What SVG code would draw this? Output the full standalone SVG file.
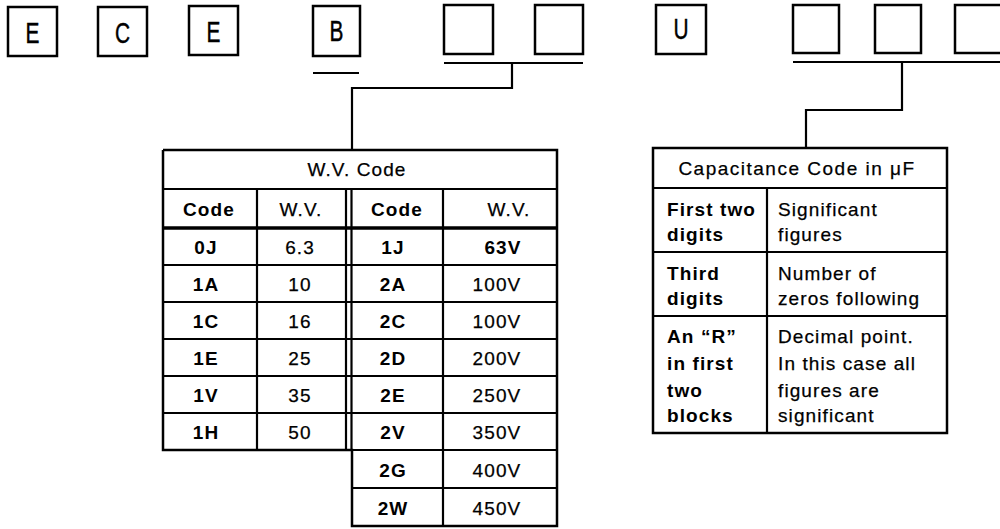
<svg xmlns="http://www.w3.org/2000/svg" width="1000" height="529" viewBox="0 0 1000 529">
<style>
.box{fill:none;stroke:#000;stroke-width:2.5}
.ln{fill:none;stroke:#000;stroke-width:2.2}
.thk{fill:none;stroke:#000;stroke-width:3.5}
.big{font-family:"Liberation Sans",Arial,sans-serif;font-size:29px;text-anchor:middle;fill:#000;stroke:#000;stroke-width:0.45px}
.t{font-family:"Liberation Sans",Arial,sans-serif;font-size:19px;letter-spacing:1.1px;fill:#000;stroke:#000;stroke-width:0.25px}
.c{text-anchor:middle}
.b{font-weight:bold;stroke-width:0}
</style>
<rect width="1000" height="529" fill="#fff"/>

<g id="code-boxes">
  <g id="box-E1"><rect class="box" x="8" y="7" width="49" height="49"/><text class="big" transform="translate(32.5,43) scale(0.72,1)">E</text></g>
  <g id="box-C"><rect class="box" x="98" y="7" width="49" height="49"/><text class="big" transform="translate(122.5,43) scale(0.72,1)">C</text></g>
  <g id="box-E2"><rect class="box" x="189" y="6" width="49" height="49"/><text class="big" transform="translate(213.5,42) scale(0.72,1)">E</text></g>
  <g id="box-B"><rect class="box" x="313" y="6" width="47" height="50"/><text class="big" transform="translate(336.5,41) scale(0.72,1)">B</text></g>
  <g id="box-V1"><rect class="box" x="444" y="5" width="49" height="49"/></g>
  <g id="box-V2"><rect class="box" x="535" y="5" width="48" height="49"/></g>
  <g id="box-U"><rect class="box" x="656" y="5" width="50" height="49"/><text class="big" transform="translate(681,39) scale(0.72,1)">U</text></g>
  <g id="box-C1"><rect class="box" x="793" y="5" width="46" height="48"/></g>
  <g id="box-C2"><rect class="box" x="875" y="5" width="46" height="48"/></g>
  <g id="box-C3"><rect class="box" x="955" y="5" width="50" height="48"/></g>
</g>

<g id="connectors">
  <line class="ln" x1="313" y1="73" x2="359" y2="73"/>
  <polyline class="ln" points="444,63 583,63"/>
  <polyline class="ln" points="512,63 512,88 352,88 352,150"/>
  <polyline class="ln" points="793,62 1000,62"/>
  <polyline class="ln" points="902,62 902,110 806,110 806,148"/>
</g>

<g id="wv-table">
  <polyline class="box" points="163,150 557,150 557,526 352,526 352,450 163,450 163,150"/>
  <line class="ln" x1="163" y1="189" x2="557" y2="189"/>
  <line class="thk" x1="163" y1="228" x2="557" y2="228"/>
  <line class="ln" x1="163" y1="265" x2="557" y2="265"/>
  <line class="ln" x1="163" y1="302" x2="557" y2="302"/>
  <line class="ln" x1="163" y1="339" x2="557" y2="339"/>
  <line class="ln" x1="163" y1="376" x2="557" y2="376"/>
  <line class="ln" x1="163" y1="413" x2="557" y2="413"/>
  <line class="ln" x1="352" y1="450" x2="557" y2="450"/>
  <line class="ln" x1="352" y1="488" x2="557" y2="488"/>
  <line class="ln" x1="257" y1="189" x2="257" y2="450"/>
  <line class="ln" x1="346" y1="189" x2="346" y2="450"/>
  <line class="ln" x1="351.5" y1="189" x2="351.5" y2="450"/>
  <line class="ln" x1="443" y1="189" x2="443" y2="526"/>

  <text class="t c" x="357" y="176">W.V. Code</text>
  <text class="t c b" x="209" y="216">Code</text>
  <text class="t c" x="301" y="216">W.V.</text>
  <text class="t c b" x="397" y="216">Code</text>
  <text class="t c" x="509" y="216">W.V.</text>

  <text class="t c b" x="206" y="254">0J</text><text class="t c" x="300" y="254">6.3</text>
  <text class="t c b" x="393" y="254">1J</text><text class="t c b" x="503" y="254">63V</text>

  <text class="t c b" x="206" y="291">1A</text><text class="t c" x="300" y="291">10</text>
  <text class="t c b" x="393" y="291">2A</text><text class="t c" x="497" y="291">100V</text>

  <text class="t c b" x="206" y="328">1C</text><text class="t c" x="300" y="328">16</text>
  <text class="t c b" x="393" y="328">2C</text><text class="t c" x="497" y="328">100V</text>

  <text class="t c b" x="206" y="365">1E</text><text class="t c" x="300" y="365">25</text>
  <text class="t c b" x="393" y="365">2D</text><text class="t c" x="497" y="365">200V</text>

  <text class="t c b" x="206" y="402">1V</text><text class="t c" x="300" y="402">35</text>
  <text class="t c b" x="393" y="402">2E</text><text class="t c" x="497" y="402">250V</text>

  <text class="t c b" x="206" y="439">1H</text><text class="t c" x="300" y="439">50</text>
  <text class="t c b" x="393" y="439">2V</text><text class="t c" x="497" y="439">350V</text>

  <text class="t c b" x="393" y="477">2G</text><text class="t c" x="497" y="477">400V</text>
  <text class="t c b" x="393" y="515">2W</text><text class="t c" x="497" y="515">450V</text>
</g>

<g id="cap-table">
  <rect class="box" x="653" y="148" width="294" height="285"/>
  <line class="ln" x1="653" y1="188" x2="947" y2="188"/>
  <line class="ln" x1="653" y1="252" x2="947" y2="252"/>
  <line class="ln" x1="653" y1="316" x2="947" y2="316"/>
  <line class="ln" x1="767" y1="188" x2="767" y2="433"/>
  <text class="t c" x="797" y="175" style="letter-spacing:1.5px">Capacitance Code in μF</text>

  <text class="t b" x="667" y="216">First two</text>
  <text class="t b" x="667" y="241">digits</text>
  <text class="t" x="778" y="216">Significant</text>
  <text class="t" x="778" y="241">figures</text>

  <text class="t b" x="667" y="280">Third</text>
  <text class="t b" x="667" y="305">digits</text>
  <text class="t" x="778" y="280">Number of</text>
  <text class="t" x="778" y="305">zeros following</text>

  <text class="t b" x="667" y="343">An “R”</text>
  <text class="t b" x="667" y="370">in first</text>
  <text class="t b" x="667" y="397">two</text>
  <text class="t b" x="667" y="422">blocks</text>
  <text class="t" x="778" y="343">Decimal point.</text>
  <text class="t" x="778" y="370">In this case all</text>
  <text class="t" x="778" y="397">figures are</text>
  <text class="t" x="778" y="422">significant</text>
</g>
</svg>
